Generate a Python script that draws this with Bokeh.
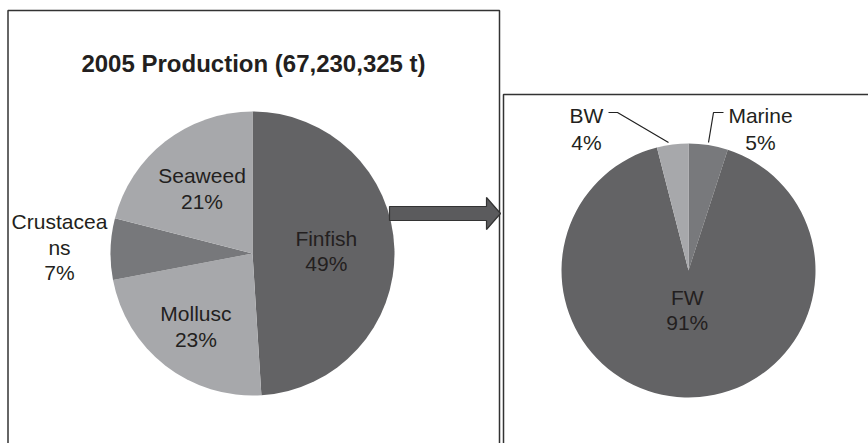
import math
from bokeh.plotting import figure
from bokeh.models import Range1d, ColumnDataSource
from bokeh.core.properties import value
from bokeh.embed import file_html
from bokeh.resources import INLINE

# ---------------- data ----------------
title_text = "2005 Production (67,230,325 t)"
left_names = ["Finfish", "Mollusc", "Crustacea\nns", "Seaweed"]
left_pct = [49, 23, 7, 21]
left_colors = ["#636365", "#a7a8ab", "#77787b", "#a7a8ab"]
left_label_r = [0.52, 0.65, 1.36, 0.58]

right_names = ["Marine", "FW", "BW"]
right_pct = [5, 91, 4]
right_colors = ["#78797c", "#636365", "#a7a8ab"]

# ---------------- layout ----------------
W, H = 868, 443
PAGE_H = 443
FONT = "Liberation Sans"
TXT = "#231f20"


def Y(py):
    return PAGE_H - py


p = figure(width=W, height=H, output_backend="svg", toolbar_location=None,
           x_range=Range1d(0, W), y_range=Range1d(0, H),
           min_border=0, outline_line_color=None)
p.axis.visible = False
p.grid.visible = False
p.background_fill_color = "white"
p.border_fill_color = "white"

# frames
p.line([7.5, 7.5, 499, 499], [Y(460), Y(10), Y(10), Y(460)], line_color="#333333", line_width=1.5)
p.line([503, 503, 900], [Y(460), Y(94), Y(94)], line_color="#333333", line_width=1.5)

# title
p.text(x=[253], y=[Y(63)], text=[title_text], text_font=value(FONT), text_font_style="bold",
       text_font_size="24px", text_align="center", text_baseline="middle", text_color=TXT)


def pie(cx, cy, r, pcts, colors):
    total = float(sum(pcts))
    starts, ends, mids = [], [], []
    cum = 0.0
    for v in pcts:
        a0 = math.pi / 2 - 2 * math.pi * cum / total
        a1 = math.pi / 2 - 2 * math.pi * (cum + v) / total
        starts.append(a0)
        ends.append(a1)
        mids.append((a0 + a1) / 2)
        cum += v
    src = ColumnDataSource(dict(start=starts, end=ends, color=colors))
    p.wedge(x=cx, y=Y(cy), radius=r, start_angle="start", end_angle="end",
            direction="clock", fill_color="color", line_color=None, source=src)
    return mids


def label(x, py, lines, lh=25.5):
    n = len(lines)
    for i, t in enumerate(lines):
        yy = py + (i - (n - 1) / 2) * lh
        p.text(x=[x], y=[Y(yy)], text=[t], text_font=value(FONT), text_font_size="21px",
               text_align="center", text_baseline="middle", text_color=TXT)


# left pie
LCX, LCY, LR = 252, 253, 142
mids = pie(LCX, LCY, LR, left_pct, left_colors)
for name, pc, m, f in zip(left_names, left_pct, mids, left_label_r):
    lx = LCX + f * LR * math.cos(m)
    ly = LCY - f * LR * math.sin(m)
    label(lx, ly, name.split("\n") + [f"{pc}%"])

# arrow
ax = [389, 486, 486, 500, 486, 486, 389]
ay = [206, 206, 197, 213, 229, 220, 220]
p.patch(ax, [Y(v) for v in ay], fill_color="#5b5b5d", line_color="#333333", line_width=1.2)

# right pie
RCX, RCY, RR = 688, 270, 127
rmids = pie(RCX, RCY, RR, right_pct, right_colors)
# FW label inside
fw = right_names.index("FW")
label(RCX + 0.31 * RR * math.cos(rmids[fw]), RCY - 0.31 * RR * math.sin(rmids[fw]),
      [right_names[fw], f"{right_pct[fw]}%"])
# outside labels
bw = right_names.index("BW")
mr = right_names.index("Marine")
label(586, 128.5, [right_names[bw], f"{right_pct[bw]}%"], lh=27)
label(760, 128.5, [right_names[mr], f"{right_pct[mr]}%"], lh=27)
# leader lines
p.line([608, 617, 668], [Y(112), Y(112), Y(142)], line_color="#222222", line_width=1.2)
p.line([723, 713, 708], [Y(112), Y(112), Y(142)], line_color="#222222", line_width=1.2)

open("out.html", "w").write(file_html(p, INLINE))
